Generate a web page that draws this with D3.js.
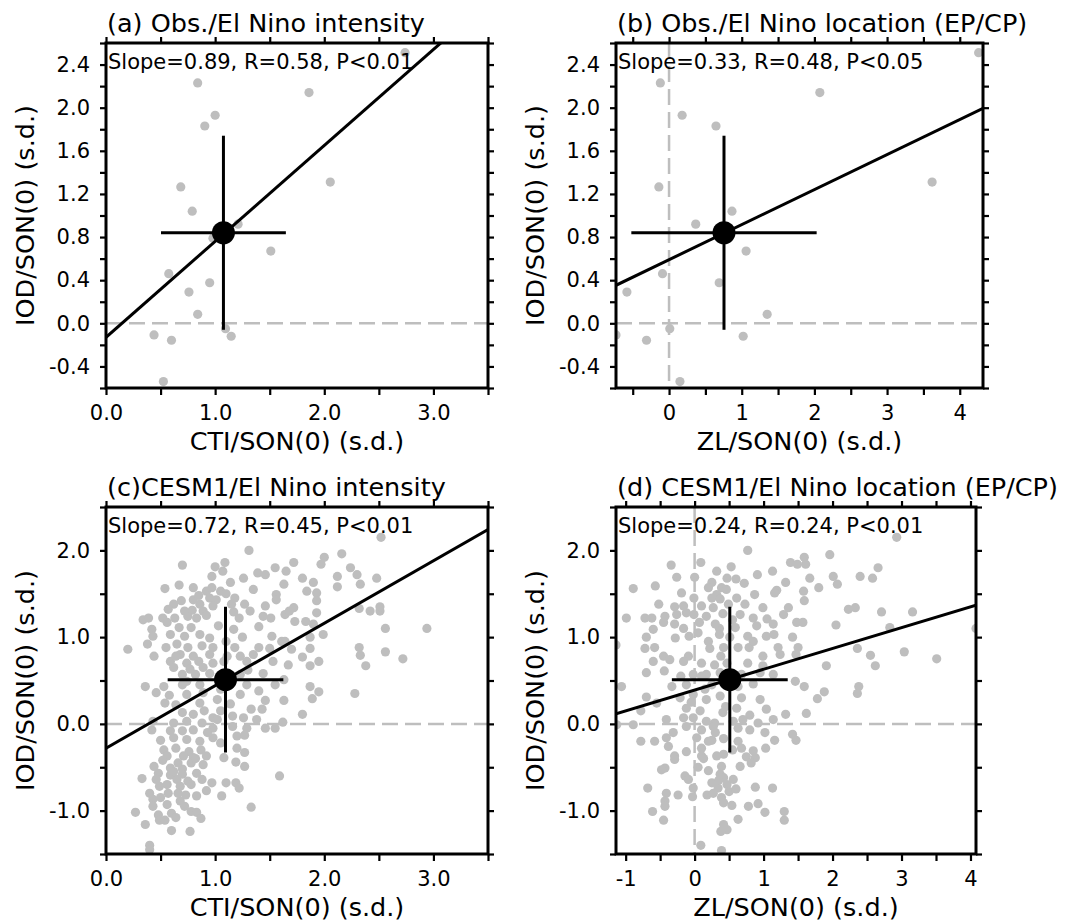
<!DOCTYPE html>
<html>
<head>
<meta charset="utf-8">
<script src="https://cdn.jsdelivr.net/npm/d3@7"></script>
<style>
  body { margin: 0; background: #fff; }
  svg text { font-family: "DejaVu Sans", sans-serif; fill: #000; }
</style>
</head>
<body>
<div id="chart"></div>
<script>
// 観測 (20 events): CTI, ZL, IOD
const obsCti = [2.74, 0.84, 1.86, 1.00, 0.905, 2.055, 0.685, 0.79, 1.21, 0.98, 1.51, 0.575, 0.95, 0.76, 0.84, 1.095, 0.44, 0.60, 1.147, 0.526];
const obsZl  = [4.26, -0.12, 2.075, 0.18, 0.646, 3.62, -0.14, 0.866, 0.367, 0.77, 1.06, -0.09, 0.69, -0.58, 1.35, 0.01, -0.73, -0.31, 1.02, 0.15];
const obsIod = [2.51, 2.23, 2.14, 1.93, 1.83, 1.31, 1.265, 1.04, 0.92, 0.79, 0.67, 0.46, 0.376, 0.29, 0.083, -0.05, -0.108, -0.157, -0.12, -0.54];

// CESM1: [CTI, IOD]
const cesmIntensity = [
  [2.52,2.15],[1.31,2.0],[2.16,1.96],[2.0,1.92],[0.70,1.83],[1.09,1.86],[1.0,1.81],[1.72,1.86],[1.97,1.84],[1.55,1.8],
  [2.24,1.8],[1.39,1.74],[1.46,1.72],[1.07,1.76],[1.65,1.76],[0.97,1.70],[1.26,1.68],[1.80,1.68],[2.12,1.70],[2.30,1.72],
  [2.48,1.68],[1.90,1.63],[1.14,1.63],[0.67,1.60],[1.63,1.61],[2.33,1.61],[2.12,1.58],[0.54,1.56],[0.80,1.57],[0.92,1.53],
  [0.97,1.57],[1.05,1.53],[1.84,1.53],[1.56,1.49],[1.93,1.51],[1.93,1.42],[1.56,1.43],[0.95,1.45],[1.01,1.43],[1.18,1.45],
  [1.27,1.38],[0.80,1.43],[0.62,1.38],[0.69,1.42],[0.86,1.38],[0.98,1.36],[1.46,1.36],[1.72,1.34],[2.32,1.33],[2.42,1.30],
  [2.51,1.30],[2.51,1.35],[0.57,1.32],[0.79,1.31],[0.89,1.30],[1.17,1.29],[1.32,1.30],[1.64,1.26],[1.68,1.30],[1.93,1.28],
  [0.52,1.22],[0.63,1.22],[0.75,1.24],[0.83,1.22],[0.92,1.25],[1.22,1.22],[1.44,1.24],[1.51,1.22],[1.73,1.18],[0.34,1.20],
  [0.39,1.22],[0.56,1.17],[1.83,1.18],[1.90,1.15],[2.56,1.10],[2.94,1.10],[0.42,1.09],[0.67,1.11],[0.78,1.11],[1.03,1.13],
  [1.17,1.09],[1.40,1.12],[0.43,1.01],[0.59,1.03],[0.72,1.01],[0.86,1.03],[0.95,0.99],[1.52,1.01],[1.87,1.00],[1.99,1.03],
  [1.61,0.95],[1.64,0.95],[0.20,0.86],[0.38,0.92],[0.55,0.88],[0.65,0.92],[0.75,0.88],[0.88,0.90],[0.98,0.88],[1.18,0.88],
  [1.40,0.88],[1.50,0.87],[1.70,0.86],[1.87,0.87],[2.32,0.88],[0.44,0.78],[0.68,0.80],[0.80,0.78],[0.95,0.80],[1.11,0.78],
  [1.23,0.78],[1.35,0.80],[1.80,0.77],[2.33,0.79],[2.56,0.83],[2.72,0.75],[0.59,0.72],[0.74,0.70],[0.85,0.72],[0.98,0.70],
  [1.08,0.72],[1.29,0.72],[1.53,0.72],[1.95,0.72],[1.67,0.68],[1.87,0.67],[2.38,0.67],[0.62,0.65],[0.77,0.63],[0.89,0.65],
  [0.70,0.57],[0.82,0.57],[0.95,0.58],[1.44,0.58],[1.23,0.57],[0.36,0.43],[0.53,0.43],[0.74,0.49],[0.86,0.45],[1.29,0.45],
  [1.55,0.45],[1.63,0.51],[1.87,0.43],[1.95,0.37],[2.28,0.35],[0.46,0.36],[0.58,0.33],[0.74,0.34],[0.89,0.36],[1.02,0.28],
  [1.23,0.34],[1.40,0.38],[1.89,0.29],[1.63,0.27],[1.46,0.27],[0.54,0.24],[0.64,0.22],[0.86,0.24],[1.14,0.23],[1.33,0.17],
  [1.43,0.17],[0.70,0.13],[0.80,0.11],[0.98,0.07],[1.16,0.09],[1.80,0.11],[0.43,0.03],[0.62,0.01],[0.74,0.03],[0.88,0.01],
  [1.02,0.05],[1.26,0.07],[1.38,0.05],[1.62,0.02],[0.42,-0.07],[0.59,-0.08],[0.70,-0.08],[0.80,-0.07],[0.98,-0.05],[1.16,-0.03],
  [1.29,-0.05],[1.46,-0.05],[1.55,-0.05],[0.50,-0.19],[0.62,-0.16],[0.74,-0.18],[0.86,-0.20],[0.98,-0.16],[1.20,-0.14],[1.27,-0.13],
  [0.53,-0.30],[0.64,-0.28],[0.76,-0.32],[0.87,-0.30],[1.20,-0.28],[1.27,-0.33],[0.56,-0.37],[0.71,-0.37],[0.80,-0.39],[0.92,-0.37],
  [1.08,-0.39],[0.78,-0.45],[0.89,-0.47],[1.19,-0.44],[1.27,-0.49],[0.44,-0.49],[0.59,-0.51],[0.70,-0.52],[0.48,-0.57],[0.59,-0.59],
  [0.70,-0.58],[0.83,-0.57],[1.59,-0.60],[0.33,-0.63],[0.46,-0.64],[0.65,-0.64],[0.75,-0.66],[0.88,-0.64],[0.49,-0.72],[0.68,-0.72],
  [0.78,-0.70],[0.97,-0.68],[1.10,-0.68],[1.19,-0.68],[0.40,-0.80],[0.57,-0.80],[0.73,-0.82],[0.83,-0.83],[0.92,-0.77],[1.06,-0.83],
  [1.22,-0.74],[0.43,-0.87],[0.56,-0.93],[0.68,-0.89],[0.43,-0.95],[1.33,-0.96],[0.27,-1.02],[0.48,-1.05],[0.60,-1.03],[0.78,-1.01],
  [0.83,-1.02],[0.87,-1.09],[0.49,-1.11],[0.36,-1.16],[0.54,-1.11],[0.60,-1.23],[0.77,-1.24],[0.40,-1.40],[0.40,-1.45],
  [0.66,-0.45],[0.52,-0.42],[0.62,-0.55],[0.56,-0.70],[0.66,-0.80],[0.50,-0.85],[0.72,-0.95],[0.64,-1.08],[0.82,-0.40],[0.93,-0.10],
  [1.05,-0.22],[0.90,0.15],[1.05,0.40],[0.70,0.45],[0.64,0.78],[0.72,1.30],[0.85,1.48],[1.10,1.50],[1.15,1.38],[1.35,1.55],
  [1.10,0.95],[1.25,1.00],[1.30,0.62],[1.05,0.15]
];

// CESM1: [ZL, IOD]
const cesmLocation = [
  [2.93,2.15],[0.77,2.0],[1.96,1.95],[-0.34,1.83],[0.09,1.86],[0.53,1.81],[1.39,1.86],[1.59,1.92],[1.49,1.84],[1.61,1.84],
  [2.66,1.80],[0.32,1.76],[1.13,1.76],[0.91,1.72],[1.67,1.68],[2.01,1.70],[2.40,1.70],[2.58,1.68],[-0.26,1.69],[0.0,1.69],
  [0.47,1.68],[0.60,1.67],[0.72,1.62],[0.25,1.63],[1.32,1.63],[2.07,1.61],[-0.89,1.56],[-0.57,1.59],[0.20,1.57],[0.39,1.57],
  [0.46,1.55],[1.19,1.54],[1.58,1.53],[1.80,1.57],[-0.19,1.51],[0.32,1.49],[0.87,1.49],[1.16,1.51],[-0.01,1.45],[0.25,1.45],
  [0.37,1.44],[0.61,1.45],[1.59,1.42],[-0.52,1.38],[-0.29,1.35],[-0.16,1.36],[0.10,1.36],[0.27,1.34],[0.49,1.38],[0.73,1.38],
  [0.99,1.34],[1.36,1.34],[2.23,1.32],[2.33,1.34],[2.71,1.29],[3.16,1.29],[-0.99,1.22],[-0.72,1.22],[-0.62,1.22],[-0.43,1.24],
  [-0.26,1.26],[-0.12,1.28],[-0.01,1.26],[0.17,1.24],[0.41,1.27],[0.66,1.26],[0.85,1.22],[1.05,1.21],[1.29,1.26],[-0.45,1.17],
  [-0.29,1.15],[0.07,1.17],[0.59,1.11],[0.90,1.13],[1.14,1.15],[1.48,1.17],[1.57,1.17],[2.05,1.14],[2.83,1.11],[4.08,1.10],
  [-0.60,1.09],[-0.16,1.10],[0.36,1.10],[-0.08,1.01],[-0.28,0.99],[-0.70,1.00],[0.36,1.03],[0.51,1.00],[0.77,1.01],[1.04,1.01],
  [1.15,1.03],[1.42,1.00],[-1.14,0.91],[-0.58,0.88],[-0.72,0.87],[0.22,0.87],[0.42,0.88],[0.63,0.88],[0.79,0.88],[1.21,0.88],
  [1.50,0.88],[2.36,0.87],[3.04,0.83],[3.51,0.75],[-0.45,0.78],[-0.09,0.78],[0.38,0.78],[0.99,0.78],[1.24,0.80],[1.47,0.80],
  [2.55,0.79],[-0.60,0.72],[-0.36,0.74],[-0.16,0.72],[0.10,0.70],[0.29,0.68],[0.47,0.70],[0.77,0.70],[0.99,0.67],[1.91,0.67],
  [2.62,0.67],[-0.70,0.59],[-0.44,0.61],[-0.02,0.57],[0.17,0.57],[0.37,0.59],[0.68,0.57],[0.95,0.59],[1.14,0.57],[-1.06,0.43],
  [-0.33,0.43],[-0.12,0.45],[0.25,0.45],[0.63,0.43],[0.85,0.46],[1.46,0.49],[1.59,0.43],[2.38,0.43],[1.88,0.37],[2.36,0.35],
  [-0.70,0.31],[-0.55,0.24],[-0.21,0.30],[-0.02,0.34],[0.17,0.28],[0.37,0.32],[0.68,0.30],[0.95,0.28],[1.78,0.29],[-0.12,0.18],
  [0.08,0.15],[0.41,0.13],[0.61,0.18],[1.04,0.17],[1.32,0.11],[1.62,0.12],[-0.78,0.15],[-0.41,0.05],[-0.16,0.07],[-0.02,0.07],
  [0.17,0.03],[0.29,0.01],[0.56,0.03],[0.92,0.01],[1.14,0.05],[-0.89,-0.01],[-1.13,-0.01],[-0.12,-0.03],[0.10,-0.07],[0.27,-0.03],
  [0.63,-0.05],[0.80,-0.07],[1.02,-0.10],[1.42,-0.12],[1.47,-0.19],[-0.78,-0.20],[-0.58,-0.20],[-0.41,-0.16],[-0.31,-0.10],[0.03,-0.16],
  [0.25,-0.19],[0.42,-0.17],[0.63,-0.20],[1.16,-0.19],[-0.38,-0.26],[-0.12,-0.32],[0.10,-0.28],[0.68,-0.28],[0.85,-0.31],[1.03,-0.28],
  [-0.29,-0.37],[0.10,-0.37],[0.32,-0.37],[0.42,-0.35],[0.75,-0.38],[0.88,-0.39],[-0.29,-0.41],[0.13,-0.40],[0.82,-0.45],[-0.43,-0.51],
  [-0.48,-0.53],[0.20,-0.54],[0.39,-0.49],[0.66,-0.49],[-0.14,-0.60],[0.37,-0.58],[-0.09,-0.64],[0.25,-0.68],[0.42,-0.62],[0.47,-0.70],
  [0.56,-0.64],[-0.02,-0.74],[0.34,-0.74],[-0.68,-0.74],[0.88,-0.73],[1.13,-0.74],[-0.24,-0.82],[-0.41,-0.80],[0.18,-0.82],[0.27,-0.80],
  [0.50,-0.78],[-0.03,-0.84],[0.39,-0.85],[-0.43,-0.89],[0.42,-0.91],[0.54,-0.94],[0.78,-0.95],[0.92,-0.92],[-0.43,-0.95],[-0.61,-1.01],
  [1.02,-1.02],[1.30,-1.01],[1.30,-1.11],[-0.45,-1.11],[0.63,-1.10],[0.42,-1.16],[0.47,-1.22],[0.38,-1.24],[0.09,-1.40],[0.39,-1.46],
  [0.20,0.95],[0.05,1.05],[0.55,1.20],[0.30,1.15],[0.15,0.40],[0.45,0.20],[0.80,0.10],[-0.05,0.25],[0.30,-0.10],[0.55,-0.30],
  [0.20,-0.20],[0.60,-0.75],[0.35,-0.65],[0.05,-0.50],[0.70,0.05],[0.10,0.55],[0.85,0.95],[-0.20,0.55]
];

// 回帰直線 [slope, intercept]
const fitA = [0.89, -0.13];
const fitB = [0.325, 0.59];
const fitC = [0.72, -0.28];
const fitD = [0.24, 0.39];

// 平均と標準偏差 [meanX, meanY, sdX, sdY]
const statsA = [1.076, 0.84, 0.572, 0.90];
const statsB = [0.756, 0.84, 1.275, 0.90];
const statsC = [1.095, 0.51, 0.53, 0.84];
const statsD = [0.51, 0.51, 0.84, 0.84];

const statTexts = [
  "Slope=0.89, R=0.58, P<0.01",
  "Slope=0.33, R=0.48, P<0.05",
  "Slope=0.72, R=0.45, P<0.01",
  "Slope=0.24, R=0.24, P<0.01"
];
const titles = [
  "(a) Obs./El Nino intensity",
  "(b) Obs./El Nino location (EP/CP)",
  "(c)CESM1/El Nino intensity",
  "(d) CESM1/El Nino location (EP/CP)"
];

// 目盛り
const ctiTicks = [0, 0.5, 1, 1.5, 2, 2.5, 3, 3.5];
const ctiLabels = [0, 1, 2, 3];
const zlObsTicks = [-0.5, 0, 0.5, 1, 1.5, 2, 2.5, 3, 3.5, 4];
const zlObsLabels = [0, 1, 2, 3, 4];
const zlCesmTicks = [-1, -0.5, 0, 0.5, 1, 1.5, 2, 2.5, 3, 3.5, 4];
const zlCesmLabels = [-1, 0, 1, 2, 3, 4];
const obsIodTicks = [-0.6, -0.4, -0.2, 0, 0.2, 0.4, 0.6, 0.8, 1.0, 1.2, 1.4, 1.6, 1.8, 2.0, 2.2, 2.4, 2.6];
const obsIodLabels = [-0.4, 0, 0.4, 0.8, 1.2, 1.6, 2.0, 2.4];
const cesmIodTicks = [-1.5, -1, -0.5, 0, 0.5, 1, 1.5, 2, 2.5];
const cesmIodLabels = [-1, 0, 1, 2];

const svg = d3.select("#chart")
  .append("svg")
  .attr("width", 1069)
  .attr("height", 921);

svg.append("rect").attr("width", 1069).attr("height", 921).attr("fill", "#fff");

const gray = "#bebebe";
const fmt1 = d => d.toFixed(1);
const fmt0 = d => String(d);

const panels = [
  {left: 106, top: 43, width: 382, height: 345, xDomain: [0, 3.5], yDomain: [-0.6, 2.6],
   points: obsCti.map((v, i) => [v, obsIod[i]]), fit: fitA, stats: statsA, zeroX: false,
   xTicks: ctiTicks, xLabels: ctiLabels, xFmt: fmt1, yTicks: obsIodTicks, yLabels: obsIodLabels,
   xTitle: "CTI/SON(0) (s.d.)"},
  {left: 616, top: 43, width: 367, height: 345, xDomain: [-0.73, 4.32], yDomain: [-0.6, 2.6],
   points: obsZl.map((v, i) => [v, obsIod[i]]), fit: fitB, stats: statsB, zeroX: true,
   xTicks: zlObsTicks, xLabels: zlObsLabels, xFmt: fmt0, yTicks: obsIodTicks, yLabels: obsIodLabels,
   xTitle: "ZL/SON(0) (s.d.)"},
  {left: 106, top: 507, width: 382, height: 347, xDomain: [0, 3.5], yDomain: [-1.5, 2.5],
   points: cesmIntensity, fit: fitC, stats: statsC, zeroX: false,
   xTicks: ctiTicks, xLabels: ctiLabels, xFmt: fmt1, yTicks: cesmIodTicks, yLabels: cesmIodLabels,
   xTitle: "CTI/SON(0) (s.d.)"},
  {left: 616, top: 507, width: 360, height: 347, xDomain: [-1.14, 4.08], yDomain: [-1.5, 2.5],
   points: cesmLocation, fit: fitD, stats: statsD, zeroX: true,
   xTicks: zlCesmTicks, xLabels: zlCesmLabels, xFmt: fmt0, yTicks: cesmIodTicks, yLabels: cesmIodLabels,
   xTitle: "ZL/SON(0) (s.d.)"}
];

panels.forEach((p, idx) => {
  const g = svg.append("g").attr("transform", `translate(${p.left},${p.top})`);
  const x = d3.scaleLinear().domain(p.xDomain).range([0, p.width]);
  const y = d3.scaleLinear().domain(p.yDomain).range([p.height, 0]);

  g.append("clipPath").attr("id", "clip" + idx)
    .append("rect").attr("width", p.width).attr("height", p.height);
  const plot = g.append("g").attr("clip-path", `url(#clip${idx})`);

  // ゼロ線（破線）
  plot.append("line")
    .attr("x1", 0).attr("x2", p.width)
    .attr("y1", y(0)).attr("y2", y(0))
    .attr("stroke", gray).attr("stroke-width", 2.5)
    .attr("stroke-dasharray", "16,7");
  if (p.zeroX) {
    plot.append("line")
      .attr("x1", x(0)).attr("x2", x(0))
      .attr("y1", 0).attr("y2", p.height)
      .attr("stroke", gray).attr("stroke-width", 2.5)
      .attr("stroke-dasharray", "16,7");
  }

  // 散布点
  plot.selectAll("circle.pt")
    .data(p.points)
    .enter()
    .append("circle")
    .attr("class", "pt")
    .attr("cx", d => x(d[0]))
    .attr("cy", d => y(d[1]))
    .attr("r", 4.6)
    .attr("fill", gray);

  // 回帰直線
  const [slope, intercept] = p.fit;
  plot.append("line")
    .attr("x1", x(p.xDomain[0])).attr("y1", y(slope * p.xDomain[0] + intercept))
    .attr("x2", x(p.xDomain[1])).attr("y2", y(slope * p.xDomain[1] + intercept))
    .attr("stroke", "#000").attr("stroke-width", 3);

  // 平均 ± 標準偏差
  const [mx, my, sx, sy] = p.stats;
  plot.append("line")
    .attr("x1", x(mx - sx)).attr("x2", x(mx + sx))
    .attr("y1", y(my)).attr("y2", y(my))
    .attr("stroke", "#000").attr("stroke-width", 3);
  plot.append("line")
    .attr("x1", x(mx)).attr("x2", x(mx))
    .attr("y1", y(my - sy)).attr("y2", y(my + sy))
    .attr("stroke", "#000").attr("stroke-width", 3);
  plot.append("circle")
    .attr("cx", x(mx)).attr("cy", y(my)).attr("r", 11.5)
    .attr("fill", "#000");

  // 軸
  const xf = d => p.xLabels.includes(d) ? p.xFmt(d) : "";
  const yf = d => p.yLabels.includes(d) ? fmt1(d) : "";

  const axes = [
    g.append("g").attr("transform", `translate(0,${p.height})`)
      .call(d3.axisBottom(x).tickValues(p.xTicks).tickFormat(xf).tickSize(7).tickPadding(10)),
    g.append("g")
      .call(d3.axisTop(x).tickValues(p.xTicks).tickFormat("").tickSize(6)),
    g.append("g")
      .call(d3.axisLeft(y).tickValues(p.yTicks).tickFormat(yf).tickSize(6).tickPadding(10)),
    g.append("g").attr("transform", `translate(${p.width},0)`)
      .call(d3.axisRight(y).tickValues(p.yTicks).tickFormat("").tickSize(6))
  ];
  axes.forEach(a => {
    a.select(".domain").remove();
    a.selectAll(".tick line").attr("stroke", "#000").attr("stroke-width", 2.2);
    a.selectAll("text")
      .style("font-family", "'DejaVu Sans', sans-serif")
      .style("font-size", "21px")
      .attr("fill", "#000");
  });

  // 枠
  g.append("rect")
    .attr("width", p.width).attr("height", p.height)
    .attr("fill", "none").attr("stroke", "#000").attr("stroke-width", 3);

  // テキスト
  g.append("text")
    .attr("x", 1).attr("y", -11)
    .style("font-size", "25.5px")
    .text(titles[idx]);

  g.append("text")
    .attr("x", 2).attr("y", 25.5)
    .style("font-size", "21px")
    .text(statTexts[idx]);

  g.append("text")
    .attr("transform", `translate(${p.width / 2},${p.height + 62})`)
    .style("text-anchor", "middle")
    .style("font-size", "25.5px")
    .text(p.xTitle);

  g.append("text")
    .attr("transform", `translate(-72,${p.height / 2}) rotate(-90)`)
    .style("text-anchor", "middle")
    .style("font-size", "25.5px")
    .text("IOD/SON(0) (s.d.)");
});
</script>
</body>
</html>
